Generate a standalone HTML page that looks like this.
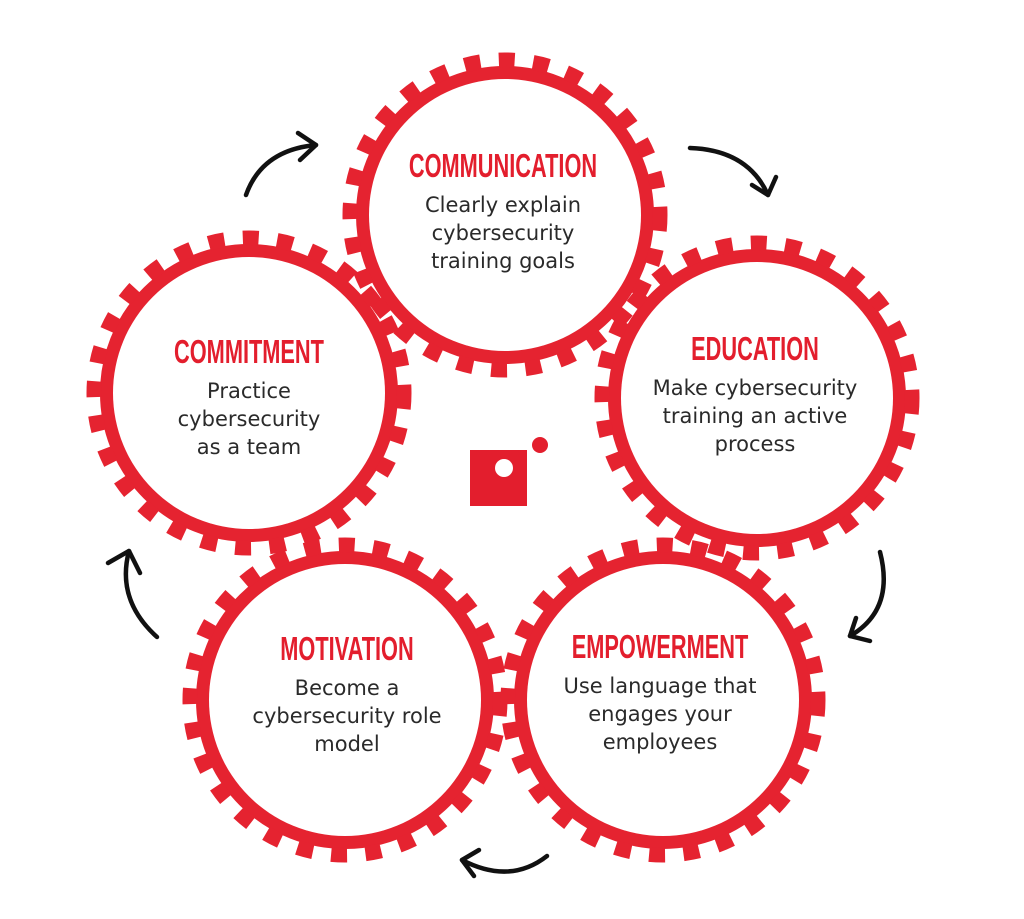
<!DOCTYPE html>
<html><head><meta charset="utf-8"><style>
html,body{margin:0;padding:0;background:#fff;}
svg{display:block;}
.t{font-family:"Liberation Sans",sans-serif;font-weight:bold;fill:#e31e2d;font-size:33px;}
.b{font-family:"DejaVu Sans",sans-serif;fill:#2a2a2a;font-size:21px;}
</style></head><body>
<svg width="1024" height="919" viewBox="0 0 1024 919" xmlns="http://www.w3.org/2000/svg">
<defs>
<g id="ring">
<circle r="142" fill="none" stroke="#e52330" stroke-width="14"/>
<circle r="155" fill="none" stroke="#e52330" stroke-width="15" stroke-dasharray="16 18.47"/>
</g>
</defs>
<use href="#ring" x="505" y="215"/>
<use href="#ring" x="757" y="398"/>
<use href="#ring" x="249" y="393"/>
<use href="#ring" x="345" y="700"/>
<use href="#ring" x="663" y="700"/>
<g fill="#fff">
<circle cx="505" cy="215" r="136"/>
<circle cx="757" cy="398" r="136"/>
<circle cx="249" cy="393" r="136"/>
<circle cx="345" cy="700" r="136"/>
<circle cx="663" cy="700" r="136"/>
</g>
<g text-anchor="middle">
<text class="t" x="503" y="177" transform="translate(503 0) scale(0.66 1) translate(-503 0)">COMMUNICATION</text>
<text class="b" x="503" y="212">Clearly explain</text>
<text class="b" x="503" y="240">cybersecurity</text>
<text class="b" x="503" y="268">training goals</text>

<text class="t" x="755" y="360" transform="translate(755 0) scale(0.66 1) translate(-755 0)">EDUCATION</text>
<text class="b" x="755" y="395">Make cybersecurity</text>
<text class="b" x="755" y="423">training an active</text>
<text class="b" x="755" y="451">process</text>

<text class="t" x="249" y="363" transform="translate(249 0) scale(0.66 1) translate(-249 0)">COMMITMENT</text>
<text class="b" x="249" y="398">Practice</text>
<text class="b" x="249" y="426">cybersecurity</text>
<text class="b" x="249" y="454">as a team</text>

<text class="t" x="347" y="660" transform="translate(347 0) scale(0.66 1) translate(-347 0)">MOTIVATION</text>
<text class="b" x="347" y="695">Become a</text>
<text class="b" x="347" y="723">cybersecurity role</text>
<text class="b" x="347" y="751">model</text>

<text class="t" x="660" y="658" transform="translate(660 0) scale(0.66 1) translate(-660 0)">EMPOWERMENT</text>
<text class="b" x="660" y="693">Use language that</text>
<text class="b" x="660" y="721">engages your</text>
<text class="b" x="660" y="749">employees</text>
</g>
<rect x="470" y="450" width="57" height="56" fill="#e31e2d"/>
<circle cx="504" cy="468" r="9" fill="#fff"/>
<circle cx="540" cy="445" r="8" fill="#e31e2d"/>
<g fill="none" stroke="#111" stroke-width="4.5" stroke-linecap="round" stroke-linejoin="round">
<path d="M246 195 Q262 150 316 145"/><path d="M298 133 L316 145 L300 160"/>
<path d="M690 148 Q748 150 768 195"/><path d="M752 185 L768 195 L776 177"/>
<path d="M880 552 Q895 610 850 636"/><path d="M856 618 L850 636 L870 641"/>
<path d="M547 856 Q510 885 462 860"/><path d="M479 850 L462 860 L474 876"/>
<path d="M157 637 Q116 600 129 551"/><path d="M108 563 L129 551 L140 573"/>
</g>
</svg>
</body></html>
